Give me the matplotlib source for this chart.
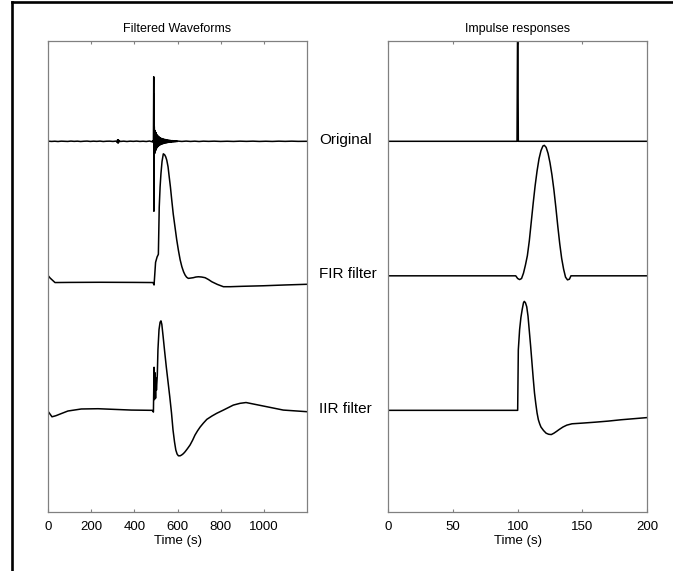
import matplotlib
matplotlib.use('Agg')
import matplotlib.pyplot as plt
from matplotlib.lines import Line2D
from matplotlib.transforms import blended_transform_factory

plt.rcParams['font.family'] = ['Liberation Sans', 'DejaVu Sans']

trace_names = ['Original', 'FIR filter', 'IIR filter']
trace_offsets = [0, -1, -2]

# seismogram, raw
orig_t = [0, 15, 30, 45, 60, 75, 90, 105, 120, 135, 150, 165, 180, 195, 210, 225,
          240, 255, 270, 285, 300, 315, 320, 322, 324, 326, 328, 330, 335, 350,
          365, 380, 395, 410, 425, 440, 455, 470, 480, 486, 488, 489, 489.5,
          490.3, 491, 491.5,
          492, 494, 496, 498, 500, 502, 504, 506, 508, 510, 512, 514, 516, 518,
          520, 522, 524, 526, 528, 530, 532, 534, 536, 538, 540, 542, 544, 546,
          548, 550, 552, 554, 556, 558, 560, 562, 564, 566, 568, 570, 572, 574,
          576, 578, 580, 582, 584, 586, 588, 590, 592, 594, 596, 598, 600,
          605, 620, 640, 660, 680, 700, 720, 745, 770, 800, 830, 860, 890, 920,
          950, 980, 1010, 1040, 1070, 1100, 1130, 1160, 1200]
orig_v = [0.001, -0.001, 0.0005, -0.0015, 0.001, 0.0, -0.001, 0.0015, -0.0005, 0.001,
          -0.0015, 0.0005, 0.0015, -0.001, 0.001, -0.0005, 0.0015, -0.0015, 0.0005, 0.001,
          -0.001, 0.0015, -0.008, 0.012, -0.014, 0.01, -0.006, 0.003, -0.001, 0.001,
          -0.0015, 0.001, -0.0005, 0.0015, -0.001, 0.0005, -0.0015, 0.002, -0.003, 0.004,
          -0.01, 0.3, 0.48, -0.52, 0.35, -0.3,
          0.11, -0.09, 0.08, -0.07, 0.065, -0.055, 0.05, -0.045, 0.042, -0.038,
          0.035, -0.032, 0.03, -0.028, 0.026, -0.024, 0.022, -0.021, 0.02, -0.019,
          0.018, -0.017, 0.016, -0.015, 0.014, -0.013, 0.013, -0.012, 0.011, -0.011,
          0.01, -0.009, 0.009, -0.008, 0.008, -0.007, 0.007, -0.006, 0.006, -0.006,
          0.005, -0.005, 0.005, -0.004, 0.004, -0.004, 0.004, -0.003, 0.003, -0.003,
          0.003, -0.002, 0.002, -0.002, 0.002,
          0.001, -0.001, 0.0015, -0.001, 0.001, -0.0015, 0.001, -0.0005, 0.001, -0.001,
          0.0005, -0.001, 0.001, -0.0005, 0.001, -0.001, 0.0005, -0.001, 0.001, -0.0005,
          0.001, -0.0005, 0.0]

# seismogram after FIR filter
fir_t = [0, 8, 31, 100, 240, 400, 486, 491, 498, 505, 511, 515, 519, 523, 528, 534,
         540, 545, 550, 556, 561, 567, 573, 580, 588, 596, 604, 612, 620, 628, 635,
         642, 650, 660, 673, 685, 697, 712, 728, 744, 759, 785, 813, 844, 900, 998,
         1100, 1200]
fir_v = [0.0, -0.016, -0.05, -0.049, -0.048, -0.049, -0.05, -0.068, 0.10, 0.14,
         0.16, 0.51, 0.66, 0.76, 0.85, 0.907, 0.9, 0.885, 0.86, 0.81, 0.74, 0.66,
         0.565, 0.46, 0.365, 0.27, 0.19, 0.12, 0.068, 0.03, 0.006, -0.01, -0.019,
         -0.017, -0.014, -0.009, -0.007, -0.009, -0.014, -0.028, -0.044, -0.064,
         -0.081, -0.081, -0.078, -0.074, -0.068, -0.063]

# seismogram after IIR filter
iir_t = [0, 17, 35, 54, 91, 153, 231, 308, 385, 483, 488, 491, 493, 495, 498, 500,
         502, 506, 509, 514, 519, 523, 527, 533, 540, 548, 556, 564, 572, 579, 586,
         592, 598, 604, 612, 619, 627, 635, 646, 658, 670, 681, 693, 705, 720, 736,
         760, 782, 813, 859, 890, 918, 952, 1014, 1091, 1200]
iir_v = [-0.01, -0.048, -0.04, -0.028, -0.005, 0.01, 0.012, 0.007, 0.002, 0.0,
         -0.013, 0.32, 0.08, 0.28, 0.09, 0.24, 0.15, 0.26, 0.45, 0.6, 0.655, 0.665,
         0.64, 0.55, 0.44, 0.32, 0.21, 0.1, -0.02, -0.146, -0.235, -0.295, -0.325,
         -0.338, -0.338, -0.332, -0.322, -0.308, -0.285, -0.258, -0.222, -0.184,
         -0.152, -0.124, -0.095, -0.067, -0.042, -0.022, 0.002, 0.039, 0.052,
         0.058, 0.047, 0.027, 0.002, -0.01]

# impulse responses
imp_t = [0, 99.5, 100, 100.5, 200]
imp_v = [0, 0, 1.0, 0, 0]

fir_imp_t = [0, 98.5, 100, 101.5, 103, 104.5, 106, 107.5, 109, 110.5, 112, 113.5,
             115, 116.5, 118, 119.5, 120.6, 122, 123.5, 125, 126.5, 128, 129.5,
             131, 132.5, 134, 135.5, 137, 138.5, 140, 141.2, 200]
fir_imp_v = [0, 0, -0.02, -0.028, -0.02, 0.02, 0.08, 0.15, 0.26, 0.40, 0.54, 0.67,
             0.78, 0.87, 0.93, 0.965, 0.97, 0.955, 0.91, 0.84, 0.75, 0.64, 0.51,
             0.37, 0.24, 0.13, 0.05, -0.01, -0.03, -0.025, 0, 0]

iir_imp_t = [0, 100, 100.5, 101.5, 102.5, 103.5, 104.5, 105.1, 106, 107, 108, 109,
             110, 111, 112, 113, 114, 115, 116, 117, 118, 120, 122, 124, 126, 128,
             130, 132, 135, 138, 142, 150, 160, 170, 180, 190, 200]
iir_imp_v = [0, 0, 0.45, 0.6, 0.69, 0.75, 0.8, 0.81, 0.8, 0.77, 0.7, 0.59, 0.48,
             0.36, 0.24, 0.13, 0.05, -0.02, -0.07, -0.1, -0.124, -0.15, -0.17,
             -0.178, -0.18, -0.17, -0.157, -0.143, -0.124, -0.11, -0.1, -0.095,
             -0.088, -0.08, -0.07, -0.062, -0.054]

left_traces = [(orig_t, orig_v), (fir_t, fir_v), (iir_t, iir_v)]
right_traces = [(imp_t, imp_v), (fir_imp_t, fir_imp_v), (iir_imp_t, iir_imp_v)]


def style_axis(ax, xmax, ticks):
    ax.set_xlim(0, xmax)
    ax.set_ylim(-2.758, 0.7435)
    ax.set_xticks(ticks)
    ax.set_yticks([])
    ax.tick_params(axis='x', direction='in', top=True, length=2.5, width=0.8,
                   color='#808080', labelsize=9.5, pad=6)
    for sp in ax.spines.values():
        sp.set_color('#808080')
        sp.set_linewidth(0.9)
    ax.set_xlabel('Time (s)', fontsize=9.5, labelpad=2)


fig = plt.figure(figsize=(6.73, 5.71), dpi=100)
ax1 = fig.add_axes([0.0718, 0.1028, 0.384, 0.8249])
ax2 = fig.add_axes([0.577, 0.1028, 0.3844, 0.8249])

for (t, v), off in zip(left_traces, trace_offsets):
    ax1.plot(t, [y + off for y in v], color='black', lw=1.1)
for (t, v), off in zip(right_traces, trace_offsets):
    ax2.plot(t, [y + off for y in v], color='black', lw=1.1)

style_axis(ax1, 1200, [0, 200, 400, 600, 800, 1000])
style_axis(ax2, 200, [0, 50, 100, 150, 200])
ax1.set_title('Filtered Waveforms', fontsize=9, pad=7)
ax2.set_title('Impulse responses', fontsize=9, pad=7)

trans = blended_transform_factory(ax1.transAxes, ax1.transData)
for name, off in zip(trace_names, trace_offsets):
    ax1.text(1.047, off + 0.01, name, transform=trans, va='center', ha='left',
             fontsize=11, clip_on=False)

# frame lines along left and top edges
fig.add_artist(Line2D([0.0178, 0.0178], [0, 0.996], transform=fig.transFigure,
                      color='black', lw=1.9))
fig.add_artist(Line2D([0.0178, 1.0], [0.996, 0.996], transform=fig.transFigure,
                      color='black', lw=1.9))

fig.savefig('out.png', dpi=100)
